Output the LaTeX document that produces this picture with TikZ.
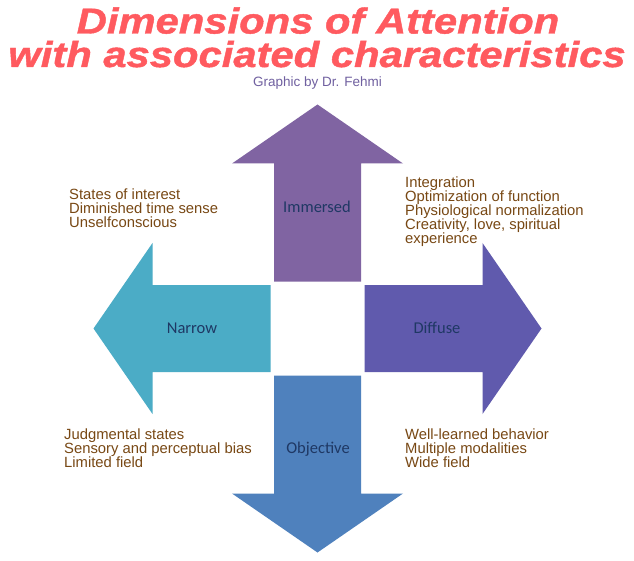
\documentclass[tikz,border=0pt]{standalone}
\usepackage{fontspec}
\setmainfont{Liberation Sans}
\newfontface\titlefont[FakeStretch=1.16,FakeBold=1.2]{Liberation Sans Bold Italic}
\newfontfamily\labelfont{Carlito}

\definecolor{titlered}{RGB}{255,90,95}
\definecolor{creditpurple}{RGB}{112,96,160}
\definecolor{notebrown}{RGB}{120,72,20}
\definecolor{labelblue}{RGB}{31,56,100}
\definecolor{immersedcol}{RGB}{128,100,162}
\definecolor{narrowcol}{RGB}{75,172,198}
\definecolor{diffusecol}{RGB}{96,90,173}
\definecolor{objectivecol}{RGB}{79,129,189}

\tikzset{
  x=1pt, y=-1pt,
  titleline/.style={anchor=base, inner sep=0, text=titlered,
    font=\titlefont\fontsize{36}{38}\selectfont},
  credit/.style={anchor=base, inner sep=0, text=creditpurple,
    font=\fontsize{13.5}{14}\selectfont},
  notes/.style={anchor=north west, inner sep=0, align=left, text=notebrown,
    font=\fontsize{14.8}{14}\selectfont},
  dimlabel/.style={anchor=base, inner sep=0, text=labelblue,
    font=\labelfont\fontsize{16.5}{18}\selectfont},
}

% one block arrow pointing along +x, starting just off the centre
\newcommand{\blockarrow}{(47,-43.5) -- (165,-43.5) -- (165,-85.5) -- (224,0)
  -- (165,85.5) -- (165,43.5) -- (47,43.5) -- cycle}

\begin{document}
\begin{tikzpicture}
\path[use as bounding box, fill=white] (0,0) rectangle (634,561);

% title and credit
\node[titleline] (title1) at (318,33.5) {Dimensions of Attention};
\node[titleline] (title2) at (317,67) {with associated characteristics};
\node[credit] (credit) at (317.5,87) {Graphic by Dr. Fehmi};

% the four dimension arrows around the centre
\begin{scope}[shift={(317.5,328.5)}]
  \fill[immersedcol, rotate=90] \blockarrow;
  \fill[narrowcol, rotate=180] \blockarrow;
  \fill[diffusecol, rotate=0] \blockarrow;
  \fill[objectivecol, rotate=270] \blockarrow;
\end{scope}

\node[dimlabel] (immersed) at (317,212.7) {Immersed};
\node[dimlabel] (narrow) at (192,333) {Narrow};
\node[dimlabel] (diffuse) at (437,333) {Diffuse};
\node[dimlabel] (objective) at (318,453) {Objective};

% characteristics of each quadrant
\node[notes] (immersednotes) at (69,188.5)
  {States of interest\\Diminished time sense\\Unselfconscious};
\node[notes] (diffusenotes) at (405,176.5)
  {Integration\\Optimization of function\\Physiological normalization\\Creativity, love, spiritual\\experience};
\node[notes] (narrownotes) at (64,428.5)
  {Judgmental states\\Sensory and perceptual bias\\Limited field};
\node[notes] (objectivenotes) at (405,428.5)
  {Well-learned behavior\\Multiple modalities\\Wide field};
\end{tikzpicture}
\end{document}
